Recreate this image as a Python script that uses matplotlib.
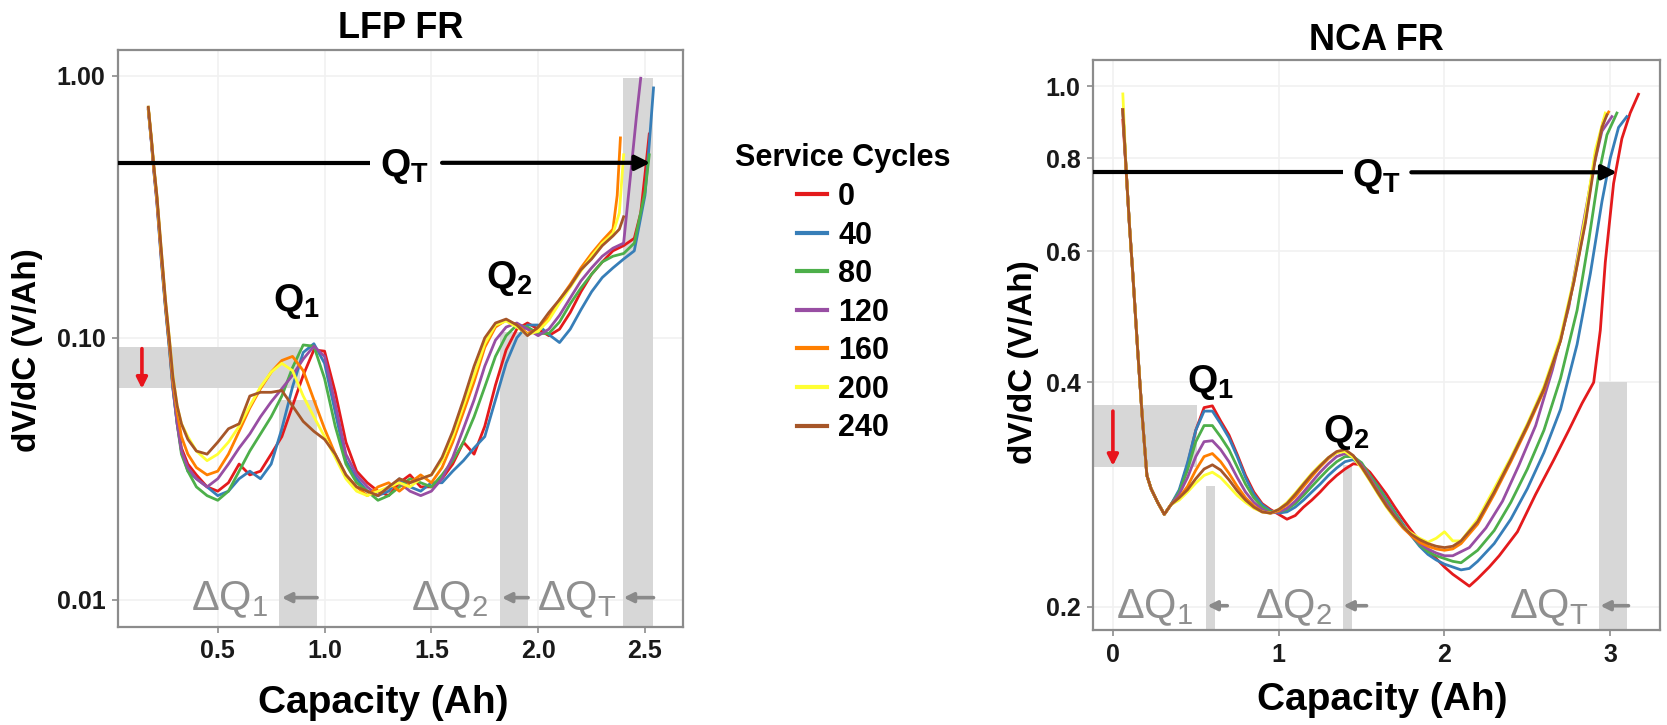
import numpy as np
import matplotlib
matplotlib.use("Agg")
import matplotlib.pyplot as plt
from matplotlib.lines import Line2D
from matplotlib.ticker import NullLocator, FixedLocator, FixedFormatter

plt.rcParams['font.family'] = ['Liberation Sans', 'DejaVu Sans']
plt.rcParams['mathtext.fontset'] = 'custom'
plt.rcParams['mathtext.rm'] = 'Liberation Sans'
plt.rcParams['mathtext.bf'] = 'Liberation Sans:bold'
plt.rcParams['mathtext.it'] = 'Liberation Sans:italic'

# ---------------- data ----------------
cycles = ['0', '40', '80', '120', '160', '200', '240']
colors = ['#E41A1C', '#377EB8', '#4DAF4A', '#984EA3', '#FF7F00', '#FFFF33', '#A65628']

# LFP FR : common capacity grid (Ah)
lfp_x = [0.175, 0.19, 0.20, 0.215, 0.235, 0.255, 0.275, 0.29, 0.31, 0.33, 0.36, 0.40,
         0.45, 0.50, 0.55, 0.60, 0.65, 0.70, 0.75, 0.80, 0.85, 0.90,
         0.95, 1.00, 1.05, 1.10, 1.15, 1.20, 1.25, 1.30, 1.35, 1.40,
         1.45, 1.50, 1.55, 1.60, 1.65, 1.70, 1.75, 1.80, 1.85, 1.90,
         1.95, 2.00, 2.05, 2.10, 2.15, 2.20, 2.25, 2.30, 2.35]

lfp_0 = [0.75, 0.56, 0.45, 0.34, 0.21, 0.135, 0.092, 0.066, 0.048, 0.038, 0.033, 0.030,
         0.027, 0.026, 0.028, 0.033, 0.030, 0.031, 0.036, 0.042, 0.055, 0.072,
         0.090, 0.089, 0.062, 0.040, 0.031, 0.028, 0.026, 0.025, 0.028, 0.030,
         0.027, 0.027, 0.029, 0.033, 0.040, 0.036, 0.046, 0.066, 0.090, 0.108,
         0.114, 0.108, 0.102, 0.108, 0.125, 0.150, 0.175, 0.195, 0.215]
lfp_40 = [0.74, 0.55, 0.44, 0.33, 0.20, 0.13, 0.088, 0.064, 0.047, 0.037, 0.031, 0.029,
          0.027, 0.025, 0.026, 0.029, 0.031, 0.029, 0.033, 0.045, 0.065, 0.088,
          0.095, 0.080, 0.052, 0.034, 0.029, 0.026, 0.025, 0.026, 0.029, 0.027,
          0.026, 0.028, 0.028, 0.031, 0.034, 0.038, 0.042, 0.058, 0.080, 0.100,
          0.112, 0.112, 0.103, 0.096, 0.108, 0.128, 0.150, 0.170, 0.185]
lfp_80 = [0.75, 0.56, 0.45, 0.34, 0.21, 0.133, 0.090, 0.065, 0.047, 0.036, 0.031, 0.027,
          0.025, 0.024, 0.026, 0.031, 0.037, 0.043, 0.050, 0.060, 0.077, 0.094,
          0.093, 0.070, 0.046, 0.033, 0.028, 0.026, 0.024, 0.025, 0.027, 0.029,
          0.028, 0.027, 0.030, 0.034, 0.040, 0.050, 0.065, 0.085, 0.102, 0.112,
          0.110, 0.104, 0.104, 0.115, 0.135, 0.155, 0.175, 0.195, 0.205]
lfp_120 = [0.74, 0.55, 0.44, 0.33, 0.205, 0.132, 0.090, 0.065, 0.047, 0.037, 0.032, 0.029,
           0.027, 0.029, 0.033, 0.038, 0.043, 0.050, 0.057, 0.064, 0.072, 0.083,
           0.093, 0.085, 0.056, 0.036, 0.030, 0.027, 0.025, 0.027, 0.028, 0.026,
           0.025, 0.026, 0.029, 0.035, 0.045, 0.058, 0.078, 0.098, 0.110, 0.114,
           0.108, 0.102, 0.108, 0.122, 0.142, 0.165, 0.185, 0.205, 0.220]
lfp_160 = [0.75, 0.56, 0.45, 0.34, 0.21, 0.135, 0.093, 0.068, 0.052, 0.042, 0.036, 0.032,
           0.030, 0.031, 0.036, 0.044, 0.054, 0.064, 0.074, 0.082, 0.085, 0.075,
           0.058, 0.045, 0.036, 0.030, 0.027, 0.025, 0.027, 0.028, 0.026, 0.028,
           0.030, 0.028, 0.032, 0.040, 0.052, 0.068, 0.092, 0.110, 0.117, 0.112,
           0.104, 0.108, 0.120, 0.140, 0.160, 0.185, 0.210, 0.235, 0.260]
lfp_200 = [0.76, 0.57, 0.46, 0.35, 0.22, 0.14, 0.097, 0.072, 0.055, 0.047, 0.042, 0.037,
           0.034, 0.036, 0.040, 0.046, 0.055, 0.065, 0.074, 0.080, 0.075, 0.060,
           0.050, 0.042, 0.035, 0.029, 0.026, 0.025, 0.026, 0.027, 0.028, 0.027,
           0.029, 0.030, 0.034, 0.042, 0.055, 0.072, 0.095, 0.112, 0.116, 0.110,
           0.103, 0.106, 0.117, 0.136, 0.156, 0.180, 0.205, 0.230, 0.250]
lfp_240 = [0.76, 0.57, 0.46, 0.35, 0.22, 0.14, 0.096, 0.071, 0.055, 0.047, 0.041, 0.037,
           0.036, 0.040, 0.045, 0.047, 0.060, 0.062, 0.062, 0.063, 0.055, 0.048,
           0.044, 0.041, 0.036, 0.030, 0.027, 0.026, 0.025, 0.027, 0.029, 0.028,
           0.029, 0.030, 0.035, 0.044, 0.058, 0.078, 0.100, 0.114, 0.118, 0.112,
           0.102, 0.110, 0.125, 0.140, 0.158, 0.182, 0.200, 0.225, 0.245]

# end-of-charge upturn of each LFP curve (x, y)
lfp_tail_0 = [(2.40, 0.225), (2.45, 0.24), (2.48, 0.30), (2.50, 0.42), (2.52, 0.60)]
lfp_tail_40 = [(2.40, 0.20), (2.45, 0.215), (2.50, 0.35), (2.52, 0.55), (2.54, 0.90)]
lfp_tail_80 = [(2.40, 0.21), (2.45, 0.23), (2.50, 0.36), (2.52, 0.50)]
lfp_tail_120 = [(2.40, 0.23), (2.43, 0.40), (2.46, 0.70), (2.48, 0.98)]
lfp_tail_160 = [(2.37, 0.35), (2.385, 0.58)]
lfp_tail_200 = [(2.38, 0.30), (2.40, 0.50)]
lfp_tail_240 = [(2.38, 0.26), (2.40, 0.29)]

# NCA FR : common capacity grid (Ah)
nca_x = [0.06, 0.08, 0.10, 0.12, 0.15, 0.175, 0.205, 0.23, 0.27, 0.31, 0.35,
         0.40, 0.45, 0.50, 0.55, 0.60, 0.65, 0.70, 0.75, 0.80, 0.85,
         0.90, 0.95, 1.00, 1.05, 1.10, 1.15, 1.20, 1.25, 1.30, 1.35,
         1.40, 1.45, 1.50, 1.55, 1.60, 1.65, 1.70, 1.75, 1.80, 1.85,
         1.90, 1.95, 2.00]
nca_start = [0.93, 0.77, 0.65, 0.56, 0.44, 0.365, 0.30, 0.288, 0.276, 0.266, 0.274]

nca_0 = [0.90] + nca_start[1:] + [
    0.285, 0.31, 0.345, 0.370, 0.372, 0.355, 0.34, 0.32, 0.30, 0.285,
    0.275, 0.27, 0.266, 0.262, 0.265, 0.272, 0.278, 0.285, 0.293, 0.30,
    0.306, 0.311, 0.31, 0.303, 0.293, 0.283, 0.272, 0.262, 0.253, 0.245,
    0.238, 0.232, 0.226]
nca_40 = nca_start + [
    0.287, 0.312, 0.345, 0.366, 0.366, 0.352, 0.337, 0.318, 0.298, 0.283,
    0.274, 0.269, 0.267, 0.268, 0.272, 0.278, 0.285, 0.292, 0.30, 0.307,
    0.313, 0.315, 0.31, 0.30, 0.29, 0.279, 0.268, 0.258, 0.249, 0.241,
    0.235, 0.231, 0.228]
nca_80 = nca_start + [
    0.285, 0.305, 0.333, 0.350, 0.350, 0.338, 0.325, 0.308, 0.292, 0.280,
    0.272, 0.268, 0.268, 0.27, 0.275, 0.282, 0.29, 0.298, 0.306, 0.313,
    0.318, 0.318, 0.312, 0.30, 0.289, 0.278, 0.267, 0.257, 0.249, 0.242,
    0.237, 0.234, 0.232]
nca_120 = nca_start + [
    0.283, 0.298, 0.318, 0.333, 0.334, 0.325, 0.313, 0.298, 0.285, 0.276,
    0.27, 0.267, 0.268, 0.271, 0.277, 0.285, 0.294, 0.303, 0.311, 0.318,
    0.321, 0.318, 0.31, 0.298, 0.286, 0.275, 0.265, 0.256, 0.249, 0.243,
    0.239, 0.236, 0.234]
nca_160 = nca_start + [
    0.28, 0.29, 0.305, 0.318, 0.321, 0.313, 0.302, 0.29, 0.28, 0.273,
    0.268, 0.267, 0.269, 0.274, 0.281, 0.29, 0.299, 0.308, 0.316, 0.322,
    0.324, 0.318, 0.308, 0.296, 0.284, 0.273, 0.263, 0.255, 0.249, 0.244,
    0.241, 0.239, 0.238]
nca_200 = [0.976] + nca_start[1:] + [
    0.278, 0.285, 0.293, 0.30, 0.303, 0.298, 0.29, 0.282, 0.276, 0.271,
    0.268, 0.267, 0.27, 0.276, 0.284, 0.293, 0.302, 0.31, 0.317, 0.322,
    0.323, 0.317, 0.307, 0.295, 0.283, 0.272, 0.263, 0.256, 0.251, 0.247,
    0.244, 0.247, 0.252]
nca_240 = nca_start + [
    0.28, 0.287, 0.297, 0.306, 0.31, 0.305, 0.296, 0.286, 0.278, 0.272,
    0.268, 0.267, 0.27, 0.275, 0.283, 0.292, 0.301, 0.309, 0.317, 0.323,
    0.325, 0.319, 0.308, 0.296, 0.284, 0.273, 0.264, 0.256, 0.25, 0.246,
    0.243, 0.241, 0.240]

nca_tail_0 = [(2.05, 0.221), (2.10, 0.217), (2.15, 0.213), (2.20, 0.218), (2.27, 0.226),
              (2.33, 0.234), (2.44, 0.252), (2.55, 0.283), (2.66, 0.315), (2.75, 0.345),
              (2.83, 0.375), (2.90, 0.40), (2.94, 0.47), (2.97, 0.58), (3.02, 0.74),
              (3.07, 0.85), (3.12, 0.92), (3.17, 0.975)]
nca_tail_40 = [(2.05, 0.226), (2.10, 0.224), (2.15, 0.225), (2.20, 0.23), (2.30, 0.243),
               (2.40, 0.262), (2.50, 0.288), (2.60, 0.322), (2.70, 0.368), (2.80, 0.45),
               (2.88, 0.56), (2.95, 0.70), (3.00, 0.80), (3.05, 0.88), (3.10, 0.91)]
nca_tail_80 = [(2.05, 0.23), (2.10, 0.229), (2.20, 0.238), (2.30, 0.253), (2.40, 0.276),
               (2.50, 0.306), (2.60, 0.345), (2.70, 0.405), (2.80, 0.50), (2.87, 0.62),
               (2.93, 0.76), (2.98, 0.86), (3.04, 0.92)]
nca_tail_120 = [(2.05, 0.234), (2.15, 0.240), (2.25, 0.255), (2.35, 0.277), (2.45, 0.31),
                (2.55, 0.35), (2.65, 0.415), (2.75, 0.505), (2.83, 0.64), (2.90, 0.78),
                (2.95, 0.87), (3.01, 0.91)]
nca_tail_160 = [(2.05, 0.239), (2.10, 0.243), (2.20, 0.258), (2.30, 0.283), (2.40, 0.313),
                (2.50, 0.348), (2.60, 0.39), (2.70, 0.455), (2.78, 0.545), (2.85, 0.66),
                (2.91, 0.81), (2.96, 0.90), (2.99, 0.923)]
nca_tail_200 = [(2.05, 0.245), (2.10, 0.245), (2.20, 0.262), (2.30, 0.288), (2.40, 0.317),
                (2.50, 0.352), (2.60, 0.395), (2.70, 0.46), (2.78, 0.55), (2.85, 0.67),
                (2.91, 0.82), (2.97, 0.92)]
nca_tail_240 = [(2.05, 0.241), (2.10, 0.245), (2.20, 0.26), (2.30, 0.285), (2.40, 0.315),
                (2.50, 0.35), (2.60, 0.392), (2.70, 0.455), (2.78, 0.545), (2.85, 0.655),
                (2.91, 0.80), (2.95, 0.88), (2.98, 0.915)]

lfp_series = [(lfp_0, lfp_tail_0), (lfp_40, lfp_tail_40), (lfp_80, lfp_tail_80),
              (lfp_120, lfp_tail_120), (lfp_160, lfp_tail_160), (lfp_200, lfp_tail_200),
              (lfp_240, lfp_tail_240)]
nca_series = [(nca_0, nca_tail_0), (nca_40, nca_tail_40), (nca_80, nca_tail_80),
              (nca_120, nca_tail_120), (nca_160, nca_tail_160), (nca_200, nca_tail_200),
              (nca_240, nca_tail_240)]

# ---------------- figure ----------------
W, H = 1667, 725
fig = plt.figure(figsize=(W / 100, H / 100), dpi=100)
ax1 = fig.add_axes([118 / W, 1 - 627 / H, (683 - 118) / W, (627 - 50) / H])
ax2 = fig.add_axes([1093 / W, 1 - 630 / H, (1660 - 1093) / W, (630 - 60) / H])

BAND = '#d7d7d7'
GREYTXT = '#8f8f8f'
GREYARR = '#8a8a8a'
RED = '#e8141c'


def style(ax):
    ax.set_facecolor('white')
    for s in ax.spines.values():
        s.set_color('#8c8c8c')
        s.set_linewidth(1.6)
    ax.tick_params(axis='both', which='major', length=4, width=1.2, color='#8c8c8c',
                   labelsize=18, pad=5, labelcolor='#1a1a1a')
    ax.yaxis.set_minor_locator(NullLocator())
    ax.xaxis.set_minor_locator(NullLocator())
    ax.grid(True, which='major', color='#f1f1f1', lw=1.2)
    ax.set_axisbelow(True)


def draw_curves(ax, xgrid, series):
    for (ys, tail), c in zip(series, colors):
        xs = list(xgrid) + [p[0] for p in tail]
        yy = list(ys) + [p[1] for p in tail]
        ax.plot(xs, yy, color=c, lw=2.0, zorder=3, solid_joinstyle='round')


def darrow(ax, x0, x1, y, color, lw, ms, z=4):
    ax.annotate('', xy=(x1, y), xytext=(x0, y), xycoords='data',
                arrowprops=dict(arrowstyle='-|>', color=color, lw=lw, mutation_scale=ms,
                                shrinkA=0, shrinkB=0), zorder=z)


def varrow(ax, x, y0, y1, color, lw, ms):
    ax.annotate('', xy=(x, y1), xytext=(x, y0), xycoords='data',
                arrowprops=dict(arrowstyle='-|>', color=color, lw=lw, mutation_scale=ms,
                                shrinkA=0, shrinkB=0), zorder=4)


def labels(ax, title, tpad, xl_xy, yl_xy):
    ax.set_title(title, fontsize=26, fontweight='bold', pad=tpad)
    ax.set_xlabel('Capacity (Ah)', fontsize=28, fontweight='bold')
    ax.set_ylabel('dV/dC (V/Ah)', fontsize=24, fontweight='bold')
    ax.xaxis.label.set_va('center')
    ax.yaxis.label.set_va('center')
    ax.xaxis.set_label_coords(*xl_xy)
    ax.yaxis.set_label_coords(*yl_xy)
    for lab in ax.get_xticklabels() + ax.get_yticklabels():
        lab.set_fontweight('bold')


QS = 28
DQS = 30

# ---------- LFP panel ----------
ax = ax1
style(ax)
ax.set_yscale('log')
xmin, xmax, ymin, ymax = 0.033, 2.678, 0.00788, 1.256
ax.set_xlim(xmin, xmax)
ax.set_ylim(ymin, ymax)
ax.xaxis.set_major_locator(FixedLocator([0.5, 1.0, 1.5, 2.0, 2.5]))
ax.xaxis.set_major_formatter(FixedFormatter(['0.5', '1.0', '1.5', '2.0', '2.5']))
ax.yaxis.set_major_locator(FixedLocator([0.01, 0.1, 1.0]))
ax.yaxis.set_major_formatter(FixedFormatter(['0.01', '0.10', '1.00']))
ax.yaxis.set_minor_locator(NullLocator())

ax.fill_between([xmin, 0.885], 0.0645, 0.0924, color=BAND, lw=0, zorder=1)
ax.fill_between([0.787, 0.965], ymin, 0.058, color=BAND, lw=0, zorder=1)
ax.fill_between([1.822, 1.953], ymin, 0.105, color=BAND, lw=0, zorder=1)
ax.fill_between([2.398, 2.539], ymin, 0.98, color=BAND, lw=0, zorder=1)

draw_curves(ax, lfp_x, lfp_series)

varrow(ax, 0.145, 0.091, 0.064, RED, 2.6, 16)
ax.plot([xmin, 1.213], [0.466, 0.466], color='black', lw=3, zorder=5, solid_capstyle='butt')
darrow(ax, 1.55, 2.525, 0.466, 'black', 3, 22, z=5)
ax.text(1.372, 0.45, r'$\mathbf{Q_T}$', fontsize=QS, ha='center', va='center', zorder=6)
ax.text(0.87, 0.138, r'$\mathbf{Q_1}$', fontsize=QS, ha='center', va='center', zorder=6)
ax.text(1.864, 0.168, r'$\mathbf{Q_2}$', fontsize=QS, ha='center', va='center', zorder=6)
for lab, xt in [(r'$\mathrm{\Delta Q_1}$', 0.557), (r'$\mathrm{\Delta Q_2}$', 1.588),
                (r'$\mathrm{\Delta Q_T}$', 2.183)]:
    ax.text(xt, 0.0100, lab, fontsize=DQS, color=GREYTXT, ha='center', va='center', zorder=6)
for x0, x1 in [(0.965, 0.80), (1.953, 1.83), (2.54, 2.40)]:
    darrow(ax, x0, x1, 0.0102, GREYARR, 2.6, 14)

labels(ax, 'LFP FR', 9, (0.469, -0.132), (-0.161, 0.48))

# ---------- NCA panel ----------
ax = ax2
style(ax)
ax.set_yscale('log')
xmin, xmax, ymin, ymax = -0.12, 3.30, 0.186, 1.084
ax.set_xlim(xmin, xmax)
ax.set_ylim(ymin, ymax)
ax.xaxis.set_major_locator(FixedLocator([0, 1, 2, 3]))
ax.xaxis.set_major_formatter(FixedFormatter(['0', '1', '2', '3']))
ax.yaxis.set_major_locator(FixedLocator([0.2, 0.4, 0.6, 0.8, 1.0]))
ax.yaxis.set_major_formatter(FixedFormatter(['0.2', '0.4', '0.6', '0.8', '1.0']))
ax.yaxis.set_minor_locator(NullLocator())

ax.fill_between([xmin, 0.51], 0.308, 0.373, color=BAND, lw=0, zorder=1)
ax.fill_between([0.56, 0.615], ymin, 0.29, color=BAND, lw=0, zorder=1)
ax.fill_between([1.39, 1.44], ymin, 0.31, color=BAND, lw=0, zorder=1)
ax.fill_between([2.93, 3.10], ymin, 0.40, color=BAND, lw=0, zorder=1)

draw_curves(ax, nca_x, nca_series)

varrow(ax, 0.0, 0.366, 0.309, RED, 2.6, 16)
ax.plot([xmin, 1.39], [0.766, 0.766], color='black', lw=3, zorder=5, solid_capstyle='butt')
darrow(ax, 1.80, 3.04, 0.766, 'black', 3, 22, z=5)
ax.text(1.59, 0.757, r'$\mathbf{Q_T}$', fontsize=QS, ha='center', va='center', zorder=6)
ax.text(0.59, 0.400, r'$\mathbf{Q_1}$', fontsize=QS, ha='center', va='center', zorder=6)
ax.text(1.41, 0.343, r'$\mathbf{Q_2}$', fontsize=QS, ha='center', va='center', zorder=6)
for lab, xt in [(r'$\mathrm{\Delta Q_1}$', 0.25), (r'$\mathrm{\Delta Q_2}$', 1.09),
                (r'$\mathrm{\Delta Q_T}$', 2.63)]:
    ax.text(xt, 0.1995, lab, fontsize=DQS, color=GREYTXT, ha='center', va='center', zorder=6)
for x0, x1 in [(0.69, 0.57), (1.53, 1.39), (3.11, 2.94)]:
    darrow(ax, x0, x1, 0.2005, GREYARR, 2.6, 14)

labels(ax, 'NCA FR', 7, (0.51, -0.123), (-0.123, 0.47))

# ---------- legend ----------
handles = [Line2D([0], [0], color=c, lw=3) for c in colors]
leg = fig.legend(handles, cycles, loc='upper center', bbox_to_anchor=(843 / W, 1 - 122 / H),
                 frameon=False, title='Service Cycles', alignment='center',
                 prop={'weight': 'bold', 'size': 22}, handlelength=1.0, handletextpad=0.35,
                 labelspacing=0.28, borderpad=0.2)
leg.get_title().set_fontweight('bold')
leg.get_title().set_fontsize(22)

fig.savefig('out.png', dpi=100, facecolor='white')
